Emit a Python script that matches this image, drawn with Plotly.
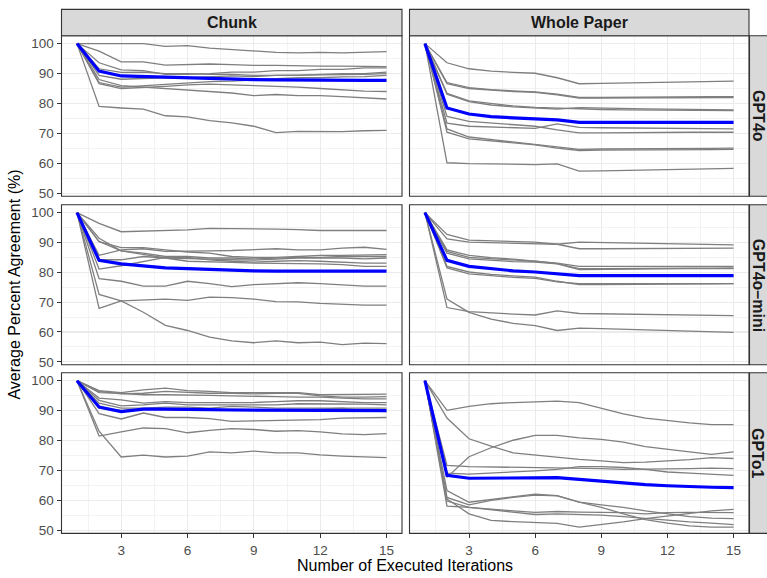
import plotly.graph_objects as go

iterations = list(range(1, 16))

# ---------- Chunk / GPT4o ----------
chunk_gpt4o = [
    [100, 100, 100, 100, 99.1, 99.3, 98.5, 98.0, 97.5, 97.1, 96.9, 97.1, 96.9, 97.1, 97.3],
    [100, 97.5, 93.9, 93.9, 92.8, 93.0, 93.2, 93.0, 92.7, 92.7, 92.5, 92.5, 92.5, 92.3, 92.3],
    [100, 93.6, 91.2, 91.0, 89.7, 89.7, 90.0, 90.5, 90.5, 91.0, 91.0, 91.4, 91.4, 91.9, 91.9],
    [100, 91.6, 90.4, 90.5, 90.0, 90.0, 89.7, 89.7, 89.4, 89.4, 89.4, 89.7, 90.0, 90.0, 90.5],
    [100, 89.4, 88.1, 88.4, 88.6, 88.6, 89.0, 89.2, 89.0, 89.4, 89.5, 89.5, 89.7, 89.7, 90.0],
    [100, 87.0, 85.5, 86.0, 86.5, 87.0, 87.3, 87.5, 88.0, 88.3, 88.6, 88.6, 88.9, 89.0, 89.4],
    [100, 86.6, 85.0, 85.3, 85.7, 86.2, 86.5, 86.2, 86.0, 85.9, 85.5, 85.0, 84.5, 84.1, 84.0],
    [100, 88.0, 86.0, 85.5, 85.0, 84.4, 84.0, 83.5, 82.6, 83.0, 82.6, 82.6, 82.3, 82.0, 81.5],
    [100, 79.0, 78.5, 78.1, 75.9, 75.5, 74.3, 73.5, 72.4, 70.3, 70.7, 70.7, 70.6, 70.9, 71.0],
]
chunk_gpt4o_mean = [100, 90.8, 89.2, 89.0, 88.6, 88.4, 88.3, 88.2, 88.0, 87.9, 87.8, 87.7, 87.7, 87.7, 87.7]

# ---------- Whole Paper / GPT4o ----------
whole_gpt4o = [
    [100, 93.6, 91.6, 90.8, 90.4, 90.1, 88.6, 86.6, 86.7, 86.8, 86.9, 87.0, 87.1, 87.3, 87.5],
    [100, 87.0, 85.3, 84.6, 84.2, 83.9, 83.1, 82.0, 82.0, 82.1, 82.1, 82.2, 82.2, 82.3, 82.3],
    [100, 86.6, 85.0, 84.4, 84.0, 83.7, 82.9, 81.8, 81.8, 81.8, 81.9, 81.9, 82.0, 82.0, 82.0],
    [100, 83.4, 80.9, 80.0, 79.2, 78.7, 78.4, 78.1, 78.0, 77.9, 77.8, 77.7, 77.7, 77.6, 77.6],
    [100, 83.1, 80.6, 79.5, 78.9, 78.6, 78.1, 78.6, 78.4, 78.3, 78.2, 78.1, 78.0, 78.0, 77.9],
    [100, 75.7, 74.0, 73.4, 73.0, 72.4, 71.2, 70.2, 70.2, 70.3, 70.3, 70.3, 70.4, 70.4, 70.4],
    [100, 73.4, 72.4, 72.2, 72.0, 71.7, 73.2, 72.0, 71.9, 71.8, 71.7, 71.7, 71.6, 71.5, 71.5],
    [100, 71.5, 68.8, 68.0, 67.2, 66.5, 65.5, 64.7, 64.8, 64.8, 64.9, 64.9, 65.0, 65.0, 65.1],
    [100, 70.4, 68.2, 67.5, 66.8, 66.2, 65.1, 64.3, 64.4, 64.4, 64.5, 64.5, 64.6, 64.6, 64.7],
    [100, 60.2, 59.9, 59.8, 59.7, 59.6, 59.8, 57.4, 57.5, 57.6, 57.8, 57.9, 58.0, 58.2, 58.3],
]
whole_gpt4o_mean = [100, 78.5, 76.5, 75.6, 75.2, 74.8, 74.5, 73.7, 73.7, 73.7, 73.7, 73.7, 73.7, 73.7, 73.7]

# ---------- Chunk / GPT4o-mini ----------
chunk_gpt4omini = [
    [100, 96.4, 93.6, 93.8, 94.0, 94.2, 94.7, 94.7, 94.7, 94.5, 94.3, 94.0, 94.0, 94.0, 94.0],
    [100, 85.7, 87.5, 87.9, 87.0, 87.0, 87.2, 87.3, 87.5, 87.9, 87.5, 87.5, 88.1, 88.4, 87.7],
    [100, 90.3, 88.3, 88.3, 87.5, 86.8, 86.4, 85.3, 85.0, 85.0, 85.3, 85.7, 85.7, 85.9, 85.9],
    [100, 91.4, 87.2, 86.4, 85.3, 85.3, 84.8, 84.8, 84.5, 84.8, 85.0, 85.0, 85.3, 85.3, 85.3],
    [100, 84.2, 84.2, 85.3, 84.8, 84.5, 84.4, 84.2, 84.1, 84.4, 84.8, 84.8, 84.8, 84.5, 84.8],
    [100, 81.1, 82.2, 83.7, 85.0, 85.0, 84.2, 83.7, 83.4, 83.7, 83.9, 83.7, 83.4, 83.1, 83.1],
    [100, 90.3, 87.2, 85.9, 84.8, 83.7, 83.4, 83.3, 83.1, 83.1, 82.9, 82.8, 82.6, 82.0, 82.0],
    [100, 77.9, 77.0, 75.4, 75.4, 77.0, 76.2, 75.2, 75.9, 76.2, 76.5, 76.2, 75.7, 75.4, 75.4],
    [100, 67.9, 70.4, 70.6, 71.0, 70.6, 71.7, 71.5, 71.0, 70.2, 70.1, 69.6, 69.3, 69.0, 69.0],
    [100, 72.6, 70.4, 66.6, 62.2, 60.5, 58.3, 57.0, 56.4, 57.0, 56.4, 56.6, 55.8, 56.3, 56.1],
]
chunk_gpt4omini_mean = [100, 84.0, 82.8, 82.2, 81.5, 81.2, 80.9, 80.6, 80.5, 80.4, 80.4, 80.4, 80.4, 80.4, 80.4]

# ---------- Whole Paper / GPT4o-mini ----------
whole_gpt4omini = [
    [100, 92.7, 90.8, 90.5, 90.3, 90.1, 89.4, 87.9, 87.9, 87.9, 88.0, 88.0, 88.0, 88.1, 88.1],
    [100, 91.2, 90.1, 89.9, 89.6, 89.4, 89.4, 90.1, 90.0, 89.8, 89.7, 89.6, 89.4, 89.3, 89.2],
    [100, 87.5, 85.7, 84.9, 84.4, 83.7, 83.1, 82.0, 82.0, 82.0, 82.0, 82.0, 82.0, 82.0, 82.0],
    [100, 87.0, 85.0, 84.5, 84.0, 83.7, 82.9, 81.2, 81.2, 81.3, 81.3, 81.3, 81.4, 81.4, 81.5],
    [100, 86.4, 84.5, 84.0, 83.6, 83.4, 82.8, 80.9, 81.0, 81.0, 81.1, 81.1, 81.2, 81.2, 81.2],
    [100, 82.0, 80.1, 79.3, 78.8, 78.4, 77.0, 75.9, 75.9, 75.9, 76.0, 76.0, 76.0, 76.1, 76.2],
    [100, 81.5, 79.5, 78.8, 78.3, 78.0, 76.8, 76.2, 76.2, 76.2, 76.2, 76.2, 76.2, 76.2, 76.2],
    [100, 71.0, 66.6, 64.3, 62.9, 62.1, 60.5, 61.3, 61.1, 60.9, 60.7, 60.5, 60.3, 60.1, 59.9],
    [100, 68.2, 66.8, 66.3, 66.0, 65.7, 67.1, 66.2, 66.1, 66.0, 65.9, 65.8, 65.7, 65.6, 65.5],
]
whole_gpt4omini_mean = [100, 84.0, 82.0, 81.2, 80.5, 80.1, 79.5, 78.9, 78.9, 78.9, 78.9, 78.9, 78.9, 78.9, 78.9]

# ---------- Chunk / GPTo1 ----------
chunk_gpto1 = [
    [100, 96.7, 96.0, 96.9, 97.5, 96.7, 96.4, 96.0, 96.0, 96.0, 96.0, 95.3, 95.3, 95.3, 95.5],
    [100, 96.4, 95.6, 95.8, 96.4, 96.0, 95.8, 95.8, 95.6, 95.8, 95.8, 94.9, 94.5, 94.5, 94.7],
    [100, 96.0, 95.8, 95.3, 95.3, 95.3, 95.1, 94.9, 94.9, 94.7, 94.5, 94.5, 94.2, 93.9, 93.9],
    [100, 94.2, 93.6, 92.5, 93.0, 92.7, 92.7, 92.7, 92.7, 93.0, 93.3, 93.3, 93.0, 92.7, 92.7],
    [100, 93.4, 91.6, 91.9, 92.5, 91.9, 91.9, 91.9, 91.9, 91.9, 92.3, 92.3, 92.3, 92.2, 91.9],
    [100, 92.5, 90.8, 90.8, 91.2, 91.2, 90.8, 91.4, 91.2, 90.8, 90.8, 90.8, 90.8, 90.8, 90.8],
    [100, 90.8, 90.1, 90.5, 90.3, 90.1, 90.3, 90.5, 90.3, 90.3, 90.1, 90.5, 90.8, 90.0, 89.7],
    [100, 89.0, 87.2, 89.2, 87.7, 87.7, 87.3, 86.4, 86.6, 86.8, 86.8, 87.0, 87.5, 87.7, 87.7],
    [100, 81.5, 82.9, 84.2, 84.0, 82.6, 83.4, 84.0, 83.7, 83.1, 83.3, 82.9, 82.2, 82.0, 82.3],
    [100, 83.1, 74.5, 75.1, 74.5, 74.8, 76.2, 75.9, 76.5, 75.9, 75.9, 75.2, 74.8, 74.6, 74.3],
]
chunk_gpto1_mean = [100, 91.2, 89.7, 90.5, 90.5, 90.3, 90.3, 90.2, 90.2, 90.2, 90.2, 90.1, 90.1, 90.0, 90.0]

# ---------- Whole Paper / GPTo1 ----------
whole_gpto1 = [
    [100, 90.1, 91.4, 92.3, 92.7, 93.0, 93.2, 92.7, 90.8, 88.9, 87.5, 86.6, 85.9, 85.3, 85.3],
    [100, 87.5, 80.6, 78.1, 75.9, 75.1, 74.3, 73.7, 73.2, 72.6, 72.8, 73.2, 73.6, 74.3, 74.0],
    [100, 67.7, 74.6, 77.6, 80.1, 81.7, 81.7, 80.9, 80.4, 79.5, 78.0, 77.0, 76.2, 75.4, 76.2],
    [100, 71.7, 71.3, 71.2, 71.0, 71.0, 71.0, 70.8, 70.6, 70.4, 70.4, 70.4, 70.6, 70.8, 70.6],
    [100, 69.1, 68.8, 69.1, 69.5, 69.9, 70.4, 71.3, 71.3, 71.0, 70.4, 69.5, 69.1, 68.8, 68.4],
    [100, 63.3, 59.4, 60.3, 61.3, 62.1, 61.6, 59.4, 58.5, 57.7, 56.5, 55.5, 54.6, 54.1, 53.9],
    [100, 61.0, 58.5, 60.0, 61.0, 61.8, 61.5, 59.4, 57.7, 55.5, 53.6, 52.4, 51.5, 51.1, 51.1],
    [100, 58.1, 57.7, 56.9, 56.1, 55.3, 55.5, 55.3, 55.1, 54.6, 54.0, 53.3, 52.8, 52.4, 51.9],
    [100, 60.5, 55.5, 53.3, 52.9, 52.6, 52.3, 51.1, 51.9, 52.8, 53.9, 54.8, 55.7, 56.5, 57.0],
    [100, 59.8, 57.7, 57.0, 56.5, 56.0, 56.3, 56.1, 56.1, 55.9, 55.5, 55.9, 56.0, 55.9, 55.9],
]
whole_gpto1_mean = [100, 68.4, 67.4, 67.5, 67.6, 67.7, 67.6, 67.0, 66.4, 65.8, 65.3, 64.9, 64.6, 64.4, 64.3]

col_labels = ["Chunk", "Whole Paper"]
row_labels = ["GPT4o", "GPT4o\u2013mini", "GPTo1"]
x_ticks = [3, 6, 9, 12, 15]
y_ticks = [50, 60, 70, 80, 90, 100]

panels = [
    [(chunk_gpt4o, chunk_gpt4o_mean), (whole_gpt4o, whole_gpt4o_mean)],
    [(chunk_gpt4omini, chunk_gpt4omini_mean), (whole_gpt4omini, whole_gpt4omini_mean)],
    [(chunk_gpto1, chunk_gpto1_mean), (whole_gpto1, whole_gpto1_mean)],
]

W, H = 767, 578


def px(xp):
    return xp / W


def py(yp):
    return 1 - yp / H


col_px = [(61.5, 402.0), (409.5, 749.0)]
row_px = [(36.0, 198.0), (206.5, 368.0), (376.0, 538.0)]

FONT = "Liberation Sans, Arial, Helvetica, sans-serif"
fig = go.Figure()
layout = {}
shapes = []
annotations = []

for r in range(3):
    for c in range(2):
        k = r * 2 + c + 1
        sfx = "" if k == 1 else str(k)
        xa, ya = "x" + sfx, "y" + sfx
        lines, mean = panels[r][c]
        for ln in lines:
            fig.add_trace(go.Scatter(x=iterations, y=ln, mode="lines", xaxis=xa, yaxis=ya,
                                     line=dict(color="#7F7F7F", width=1.3), hoverinfo="skip"))
        fig.add_trace(go.Scatter(x=iterations, y=mean, mode="lines", xaxis=xa, yaxis=ya,
                                 line=dict(color="#0000FF", width=3.2), hoverinfo="skip"))
        x0, x1 = col_px[c]
        y0, y1 = row_px[r]
        bottom = (r == 2)
        left = (c == 0)
        layout["xaxis" + sfx] = dict(
            domain=[px(x0), px(x1)], anchor=ya, range=[0.3, 15.7],
            tickvals=x_ticks, showticklabels=bottom, ticks="outside" if bottom else "",
            ticklen=4, tickwidth=1, tickcolor="#333333",
            tickfont=dict(size=13.5, color="#4D4D4D", family=FONT),
            showgrid=True, gridcolor="#EBEBEB", gridwidth=1.1, zeroline=False, showline=False,
            minor=dict(tickvals=[1.5, 4.5, 7.5, 10.5, 13.5], showgrid=True,
                       gridcolor="#EBEBEB", gridwidth=0.6, ticks=""),
        )
        layout["yaxis" + sfx] = dict(
            domain=[py(y1), py(y0)], anchor=xa, range=[49.0, 102.65],
            tickvals=y_ticks, showticklabels=left, ticks="outside" if left else "",
            ticklen=4, tickwidth=1, tickcolor="#333333",
            tickfont=dict(size=13.5, color="#4D4D4D", family=FONT),
            showgrid=True, gridcolor="#EBEBEB", gridwidth=1.1, zeroline=False, showline=False,
            minor=dict(tickvals=[55, 65, 75, 85, 95], showgrid=True,
                       gridcolor="#EBEBEB", gridwidth=0.6, ticks=""),
        )
        shapes.append(dict(type="rect", xref="paper", yref="paper",
                           x0=px(x0), x1=px(x1), y0=py(y1), y1=py(y0),
                           line=dict(color="#333333", width=1.1), layer="above"))

# top strips
for c in range(2):
    x0, x1 = col_px[c]
    shapes.append(dict(type="rect", xref="paper", yref="paper",
                       x0=px(x0), x1=px(x1), y0=py(36.0), y1=py(9.5),
                       fillcolor="#D9D9D9", line=dict(color="#333333", width=1.1), layer="above"))
    annotations.append(dict(text="<b>%s</b>" % col_labels[c], xref="paper", yref="paper",
                            x=px((x0 + x1) / 2), y=py(23.0), showarrow=False,
                            font=dict(size=16, color="#1A1A1A", family=FONT),
                            xanchor="center", yanchor="middle"))
# right strips
for r in range(3):
    y0, y1 = row_px[r]
    shapes.append(dict(type="rect", xref="paper", yref="paper",
                       x0=px(749.5), x1=px(776.0), y0=py(y1), y1=py(y0),
                       fillcolor="#D9D9D9", line=dict(color="#333333", width=1.1), layer="above"))
    annotations.append(dict(text="<b>%s</b>" % row_labels[r], xref="paper", yref="paper",
                            x=px(758.0), y=py((y0 + y1) / 2), showarrow=False, textangle=90,
                            font=dict(size=16, color="#1A1A1A", family=FONT),
                            xanchor="center", yanchor="middle"))

annotations.append(dict(text="Number of Executed Iterations", xref="paper", yref="paper",
                        x=px(405.0), y=py(570.0), showarrow=False,
                        font=dict(size=16, color="#000000", family=FONT),
                        xanchor="center", yanchor="middle"))
annotations.append(dict(text="Average Percent Agreement (%)", xref="paper", yref="paper",
                        x=px(15.0), y=py(287.0), showarrow=False, textangle=-90,
                        font=dict(size=16, color="#000000", family=FONT),
                        xanchor="center", yanchor="middle"))

fig.update_layout(
    width=W, height=H, margin=dict(l=0, r=0, t=0, b=0),
    paper_bgcolor="white", plot_bgcolor="white", showlegend=False,
    font=dict(family=FONT), shapes=shapes, annotations=annotations, **layout,
)
# remove the default 8px page margin so the figure sits at the window origin
fig.write_html("out.html",
               config={"displayModeBar": False, "staticPlot": True},
               post_script="document.body.style.margin='0';document.body.style.overflow='hidden';")
